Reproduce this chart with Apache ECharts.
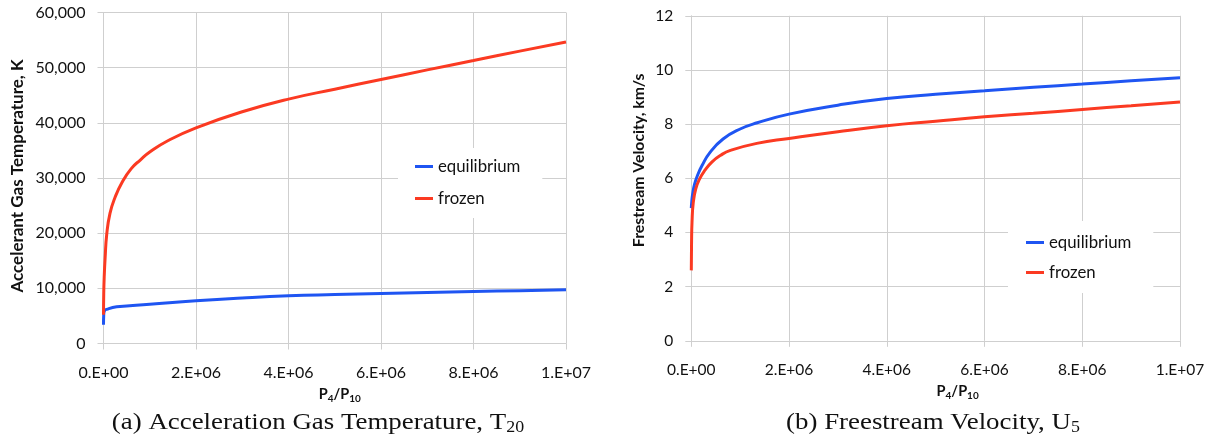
<!DOCTYPE html>
<html>
<head>
<meta charset="utf-8">
<script src="https://cdn.jsdelivr.net/npm/echarts@6/dist/echarts.min.js"></script>
<style>
  html, body { margin: 0; padding: 0; background: #fff; }
  #chart { width: 1210px; height: 437px; }
</style>
</head>
<body>
<div id="chart"></div>
<script>
// Pressure ratio P4/P10 against acceleration-gas temperature (K)
const tempEqRatio = [0, 5000, 20000, 70000, 285000, 1000000, 2000000, 3000000, 4000000, 5000000, 6000000, 7000000, 8000000, 9000000, 10000000];
const tempEqK     = [3400, 5200, 5900, 6200, 6650, 7100, 7740, 8250, 8650, 8880, 9070, 9260, 9430, 9580, 9730];
const tempFrRatio = [0, 5000, 15000, 35000, 70000, 140000, 250000, 400000, 600000, 800000, 1000000, 1400000, 2000000, 3000000, 4000000, 5000000, 6000000, 7000000, 8000000, 9000000, 10000000];
const tempFrK     = [5200, 9000, 12000, 15500, 19800, 23600, 26500, 29200, 31700, 33300, 34700, 36800, 39100, 42000, 44300, 46100, 47850, 49600, 51300, 53000, 54650];

// Pressure ratio P4/P10 against freestream velocity (km/s)
const velEqRatio = [0, 10000, 30000, 70000, 130000, 220000, 380000, 650000, 1000000, 1350000, 2000000, 3000000, 4000000, 5000000, 6000000, 7000000, 8000000, 9000000, 10000000];
const velEqKms   = [4.9, 5.15, 5.45, 5.8, 6.12, 6.47, 6.95, 7.45, 7.82, 8.05, 8.37, 8.7, 8.95, 9.1, 9.23, 9.36, 9.48, 9.6, 9.71];
const velFrRatio = [0, 5000, 15000, 40000, 90000, 170000, 280000, 420000, 600000, 800000, 1340000, 2000000, 3000000, 4000000, 5000000, 6000000, 7000000, 8000000, 9000000, 10000000];
const velFrKms   = [2.6, 3.6, 4.4, 5.1, 5.6, 5.98, 6.3, 6.6, 6.85, 7.03, 7.29, 7.47, 7.72, 7.94, 8.11, 8.27, 8.40, 8.54, 8.68, 8.82];

// Axis tick labels
const xTickLabels = ['0.E+00', '2.E+06', '4.E+06', '6.E+06', '8.E+06', '1.E+07'];
const seriesNames = ['equilibrium', 'frozen'];

const zip = (xs, ys) => xs.map((x, i) => [x, ys[i]]);

const EQ_COLOR = '#1f55f2';
const FR_COLOR = '#fb3a22';
const GRID_COLOR = '#cfcfcf';
const LABEL_FONT = 'Lato, "Open Sans", sans-serif';
const SERIF_FONT = '"Liberation Serif", "DejaVu Serif", serif';

function xAxisFor(gridIndex, shift, labelSize) {
  return {
    type: 'value', gridIndex: gridIndex,
    min: 0, max: 10000000, interval: 2000000,
    axisLine: { show: true, lineStyle: { color: GRID_COLOR, width: 1 } },
    axisTick: { show: true, length: 6, lineStyle: { color: GRID_COLOR } },
    splitLine: { show: true, lineStyle: { color: GRID_COLOR, width: 1 } },
    axisLabel: {
      margin: 21, color: '#111', fontSize: labelSize, fontFamily: LABEL_FONT,
      formatter: v => xTickLabels[Math.round(v / 2000000)]
    },
    name: '{b|P}{s|4}{b|/P}{s|10}',
    nameLocation: 'middle', nameGap: 42,
    nameTextStyle: {
      padding: [0, 0, 0, shift],
      rich: {
        b: { fontSize: 14.5, fontWeight: 'bold', color: '#111', fontFamily: LABEL_FONT },
        s: { fontSize: 10, fontWeight: 'bold', color: '#111', fontFamily: LABEL_FONT, padding: [8, 0, 0, 0] }
      }
    }
  };
}

function yAxisFor(gridIndex, max, interval, name, nameGap, nameSize, namePad, labelSize, fmt) {
  return {
    type: 'value', gridIndex: gridIndex,
    min: 0, max: max, interval: interval,
    axisLine: { show: true, lineStyle: { color: GRID_COLOR, width: 1 } },
    axisTick: { show: true, length: 6, lineStyle: { color: GRID_COLOR } },
    splitLine: { show: true, lineStyle: { color: GRID_COLOR, width: 1 } },
    axisLabel: { margin: 18, color: '#111', fontSize: labelSize, fontFamily: LABEL_FONT, formatter: fmt },
    name: name, nameLocation: 'middle', nameGap: nameGap,
    nameTextStyle: { fontSize: nameSize, fontWeight: 'bold', color: '#111', fontFamily: LABEL_FONT, padding: namePad }
  };
}

function lineSeries(name, color, xi, data) {
  return {
    name: name, type: 'line', xAxisIndex: xi, yAxisIndex: xi,
    data: data, showSymbol: false, symbol: 'none',
    smooth: 0.5,
    lineStyle: { color: color, width: 3 },
    itemStyle: { color: color },
    animation: false
  };
}

function legendAt(left, top, padding, gap) {
  return {
    data: seriesNames, orient: 'vertical', left: left, top: top,
    icon: 'rect', itemWidth: 18, itemHeight: 3, itemGap: gap, itemTextGap: 3,
    backgroundColor: '#fff', padding: padding,
    textStyle: { fontSize: 16.8, color: '#111', fontFamily: LABEL_FONT },
    selectedMode: false
  };
}

function caption(cx, main, sub) {
  return {
    type: 'text', x: cx, y: 423, scaleX: 1.12,
    style: {
      x: 0, y: 0, align: 'center', verticalAlign: 'middle',
      text: '{m|' + main + '}{s|' + sub + '}',
      rich: {
        m: { fontSize: 24, fontFamily: SERIF_FONT, fill: '#111' },
        s: { fontSize: 16, fontFamily: SERIF_FONT, fill: '#111', padding: [10, 0, 0, 0] }
      }
    }
  };
}

const chart = echarts.init(document.getElementById('chart'), null, { renderer: 'canvas' });

chart.setOption({
  backgroundColor: '#fff',
  animation: false,
  grid: [
    { left: 103.5, top: 12.5, width: 462.5, height: 331 },
    { left: 691.3, top: 15.8, width: 488.7, height: 325 }
  ],
  xAxis: [xAxisFor(0, 10, 16), xAxisFor(1, 44, 15.5)],
  yAxis: [
    yAxisFor(0, 60000, 10000, 'Accelerant Gas Temperature, K', 77, 17, [0, 0, 0, 4], 16, v => v.toLocaleString('en-US')),
    yAxisFor(1, 12, 2, 'Frestream Velocity, km/s', 44, 15.8, [0, 0, 0, 36], 15.5, v => String(v))
  ],
  legend: [
    legendAt(398, 148, [10, 22, 11, 17], 15),
    legendAt(1008, 221, [13, 22, 12, 18], 13)
  ],
  series: [
    lineSeries('equilibrium', EQ_COLOR, 0, zip(tempEqRatio, tempEqK)),
    lineSeries('frozen', FR_COLOR, 0, zip(tempFrRatio, tempFrK)),
    lineSeries('equilibrium', EQ_COLOR, 1, zip(velEqRatio, velEqKms)),
    lineSeries('frozen', FR_COLOR, 1, zip(velFrRatio, velFrKms))
  ],
  graphic: [
    caption(318, '(a) Acceleration Gas Temperature, T', '20'),
    caption(933, '(b) Freestream Velocity, U', '5')
  ]
});
</script>
</body>
</html>
